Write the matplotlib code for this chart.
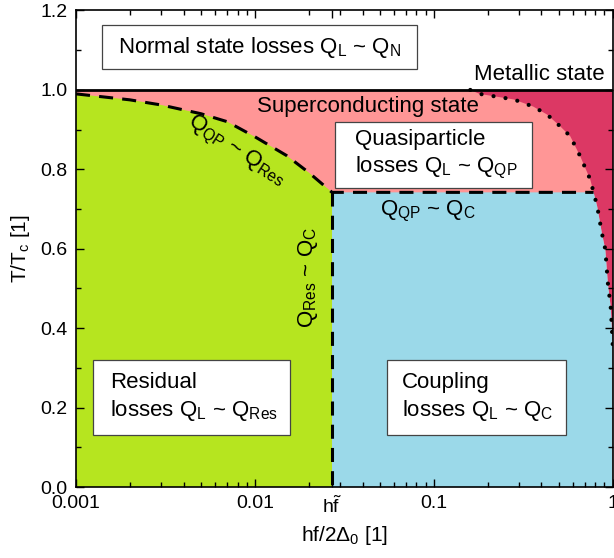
import numpy as np
import matplotlib
matplotlib.use("Agg")
import matplotlib.pyplot as plt
from matplotlib.patches import Polygon, Rectangle
from matplotlib.ticker import (FixedLocator, FixedFormatter, MultipleLocator,
                               LogLocator, NullFormatter, FormatStrFormatter)

plt.rcParams['font.family'] = ['Liberation Sans', 'DejaVu Sans']
plt.rcParams['mathtext.fontset'] = 'custom'
plt.rcParams['mathtext.rm'] = 'Liberation Sans'
plt.rcParams['mathtext.it'] = 'Liberation Sans'
plt.rcParams['mathtext.bf'] = 'Liberation Sans:bold'

# boundary Q_QP ~ Q_Res (dashed)
res_x = [0.001, 0.002, 0.003, 0.005, 0.007, 0.010, 0.015, 0.020, 0.027]
res_y = [0.990, 0.975, 0.962, 0.940, 0.920, 0.882, 0.835, 0.792, 0.742]

# hf~ and the Q_QP ~ Q_C level
hf_tilde = 0.027
qc_level = 0.742
tc_level = 1.0

# metallic / superconducting boundary (dotted)
met_x = [0.16, 0.18, 0.28, 0.36, 0.43, 0.51, 0.58, 0.66, 0.75, 0.82, 0.87,
         0.91, 0.94, 0.975, 0.99, 1.0]
met_y = [1.0, 0.99, 0.976, 0.958, 0.938, 0.908, 0.883, 0.832, 0.774, 0.706,
         0.640, 0.598, 0.514, 0.454, 0.40, 0.36]

xticks = [0.001, 0.01, hf_tilde, 0.1, 1]
xticklabels = ['0.001', '0.01', r'$\mathregular{h\tilde{f}}$', '0.1', '1']

green = '#b6e51f'
blue = '#9bd9e9'
pink = '#ff9696'
crimson = '#dc3864'

fig = plt.figure(figsize=(6.14, 5.58), dpi=100)
ax = fig.add_axes([0.1238, 0.1272, 0.874, 0.854])
ax.set_xscale('log')
ax.set_xlim(0.001, 1)
ax.set_ylim(0, 1.2)

# crossing of the dotted line with the Q_QP ~ Q_C level
x_cross = 10 ** np.interp(qc_level, met_y[::-1], np.log10(met_x)[::-1])

ax.add_patch(Rectangle((0.001, 0), 0.999, tc_level, fc=crimson, ec='none', zorder=0))
pink_pts = [(0.001, 0), (0.001, tc_level)] + list(zip(met_x, met_y)) + [(1, 0)]
ax.add_patch(Polygon(pink_pts, fc=pink, ec='none', zorder=0.5))
green_pts = [(0.001, 0)] + list(zip(res_x, res_y)) + [(hf_tilde, 0)]
ax.add_patch(Polygon(green_pts, fc=green, ec='none', zorder=1))
blue_pts = [(hf_tilde, 0), (hf_tilde, qc_level), (x_cross, qc_level)]
blue_pts += [(x, y) for x, y in zip(met_x, met_y) if y < qc_level] + [(1, 0)]
ax.add_patch(Polygon(blue_pts, fc=blue, ec='none', zorder=1))

# boundaries
ax.plot(res_x + [x_cross], res_y + [qc_level], color='k', lw=2.2,
        dashes=(4.6, 3.0), zorder=2)
ax.plot([hf_tilde, hf_tilde], [qc_level, 0], color='k', lw=2.2,
        dashes=(4.6, 3.0), zorder=2)
ax.plot(met_x, met_y, color='k', lw=3.0, linestyle=(0, (0.01, 2.9)),
        dash_capstyle='round', zorder=2)
ax.axhline(tc_level, color='k', lw=2.0, zorder=2)

# labelled boxes
def box(x0, x1, y0, y1):
    ax.add_patch(Rectangle((x0, y0), x1 - x0, y1 - y0, fc='white',
                           ec='#444444', lw=0.9, zorder=3))

fs = 16
box(0.0014, 0.0805, 1.053, 1.164)
ax.text(0.00172, 1.108, r'Normal state losses Q$_\mathregular{L}$ ~ Q$_\mathregular{N}$',
        fontsize=fs, va='center', ha='left', zorder=4)
box(0.0281, 0.354, 0.753, 0.92)
ax.text(0.0363, 0.836, 'Quasiparticle\nlosses Q$_\mathregular{L}$ ~ Q$_\mathregular{QP}$',
        fontsize=fs, va='center', ha='left', zorder=4, linespacing=1.25)
box(0.00124, 0.0157, 0.131, 0.32)
ax.text(0.00155, 0.226, 'Residual\nlosses Q$_\mathregular{L}$ ~ Q$_\mathregular{Res}$',
        fontsize=fs, va='center', ha='left', zorder=4, linespacing=1.25)
box(0.0547, 0.548, 0.131, 0.32)
ax.text(0.0664, 0.226, 'Coupling\nlosses Q$_\mathregular{L}$ ~ Q$_\mathregular{C}$',
        fontsize=fs, va='center', ha='left', zorder=4, linespacing=1.25)

ax.text(0.0103, 0.957, 'Superconducting state', fontsize=fs, va='center', ha='left', zorder=4)
ax.text(0.906, 1.038, 'Metallic state', fontsize=fs, va='center', ha='right', zorder=4)
ax.text(0.0078, 0.845, r'Q$_\mathregular{QP}$ ~ Q$_\mathregular{Res}$', fontsize=fs,
        va='center', ha='center', rotation=-33, zorder=4)
ax.text(0.093, 0.693, r'Q$_\mathregular{QP}$ ~ Q$_\mathregular{C}$', fontsize=fs,
        va='center', ha='center', zorder=4)
ax.text(0.0198, 0.527, r'Q$_\mathregular{Res}$ ~ Q$_\mathregular{C}$', fontsize=fs,
        va='center', ha='center', rotation=90, zorder=4)

# axes
ax.xaxis.set_major_locator(FixedLocator(xticks))
ax.xaxis.set_major_formatter(FixedFormatter(xticklabels))
ax.xaxis.set_minor_locator(LogLocator(base=10, subs=np.arange(2, 10)))
ax.xaxis.set_minor_formatter(NullFormatter())
ax.yaxis.set_major_locator(MultipleLocator(0.2))
ax.yaxis.set_minor_locator(MultipleLocator(0.1))
ax.yaxis.set_major_formatter(FormatStrFormatter('%.1f'))
ax.tick_params(which='both', direction='in', top=True, right=True,
               labelsize=14, width=1.0, zorder=5)
ax.tick_params(which='major', length=6, pad=6)
ax.tick_params(which='minor', length=3.5)
for s in ax.spines.values():
    s.set_linewidth(1.2)
    s.set_zorder(5)

ax.set_xlabel(r'hf/2Δ$_\mathregular{0}$ [1]', fontsize=15, labelpad=5)
ax.set_ylabel(r'T/T$_\mathregular{c}$ [1]', fontsize=15, labelpad=6)

fig.savefig('out.png', dpi=100)
